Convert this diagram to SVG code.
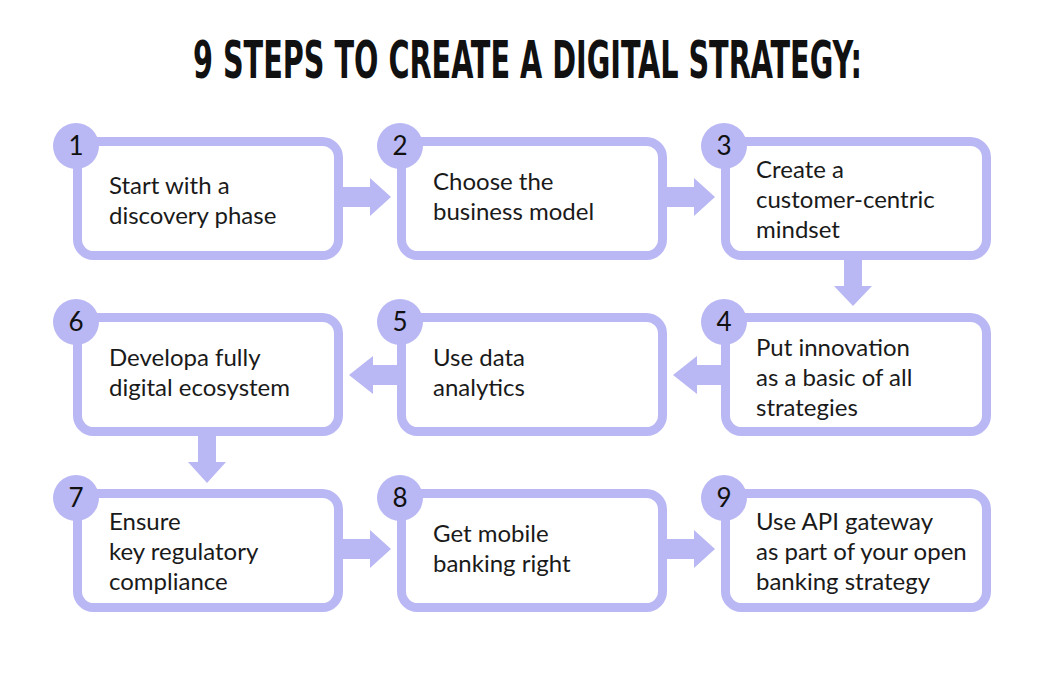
<svg xmlns="http://www.w3.org/2000/svg" width="1064" height="679" viewBox="0 0 1064 679">
<style>
.box{fill:#fff;stroke:#B9B8F4;stroke-width:9}
.num{fill:#B9B8F4}
.nt{font-family:Lato,"Liberation Sans",sans-serif;font-size:26px;fill:#111;text-anchor:middle}
.t{font-family:Lato,"Liberation Sans",sans-serif;font-size:24px;fill:#1a1a1a}
.arr{fill:#B9B8F4}
.title{font-family:"DejaVu Sans Condensed","Liberation Sans Narrow","Liberation Sans",sans-serif;font-weight:bold;font-size:52px;fill:#111}
</style>
<rect width="1064" height="679" fill="#fff"/>
<text class="title" transform="translate(193,78) scale(0.6,1)" x="0" y="0" textLength="1115" lengthAdjust="spacingAndGlyphs">9 STEPS TO CREATE A DIGITAL STRATEGY:</text>
<g id="connectors">
<path class="arr" d="M340 187H370V178L391 197L370 216V207H340Z"/>
<path class="arr" d="M664 187H694V178L715 197L694 216V207H664Z"/>
<path class="arr" d="M844 257V286H834L853 306L872 286H862V257Z"/>
<path class="arr" d="M726 365H697V356L673 375L697 394V385H726Z"/>
<path class="arr" d="M402 365H373V356L349 375L373 394V385H402Z"/>
<path class="arr" d="M198 432V462H188L207 483L226 462H216V432Z"/>
<path class="arr" d="M340 539H370V530L391 549L370 568V559H340Z"/>
<path class="arr" d="M664 539H694V530L715 549L694 568V559H664Z"/>
</g>
<g id="node1"><rect class="box" x="77.5" y="141.5" width="261" height="114" rx="16"/><circle class="num" cx="76" cy="146" r="23"/><text class="nt" x="76" y="155">1</text><text class="t" x="109" y="194">Start with a</text><text class="t" x="109" y="224">discovery phase</text></g>
<g id="node2"><rect class="box" x="401.5" y="141.5" width="261" height="114" rx="16"/><circle class="num" cx="400" cy="146" r="23"/><text class="nt" x="400" y="155">2</text><text class="t" x="433" y="190">Choose the</text><text class="t" x="433" y="220">business model</text></g>
<g id="node3"><rect class="box" x="725.5" y="141.5" width="261" height="114" rx="16"/><circle class="num" cx="724" cy="146" r="23"/><text class="nt" x="724" y="155">3</text><text class="t" x="756" y="178">Create a</text><text class="t" x="756" y="208">customer-centric</text><text class="t" x="756" y="238">mindset</text></g>
<g id="node4"><rect class="box" x="725.5" y="317.5" width="261" height="114" rx="16"/><circle class="num" cx="724" cy="322" r="23"/><text class="nt" x="724" y="331">4</text><text class="t" x="756" y="356">Put innovation</text><text class="t" x="756" y="386">as a basic of all</text><text class="t" x="756" y="416">strategies</text></g>
<g id="node5"><rect class="box" x="401.5" y="317.5" width="261" height="114" rx="16"/><circle class="num" cx="400" cy="322" r="23"/><text class="nt" x="400" y="331">5</text><text class="t" x="433" y="366">Use data</text><text class="t" x="433" y="396">analytics</text></g>
<g id="node6"><rect class="box" x="77.5" y="317.5" width="261" height="114" rx="16"/><circle class="num" cx="76" cy="322" r="23"/><text class="nt" x="76" y="331">6</text><text class="t" x="109" y="366">Developa fully</text><text class="t" x="109" y="396">digital ecosystem</text></g>
<g id="node7"><rect class="box" x="77.5" y="493.5" width="261" height="114" rx="16"/><circle class="num" cx="76" cy="498" r="23"/><text class="nt" x="76" y="507">7</text><text class="t" x="109" y="530">Ensure</text><text class="t" x="109" y="560">key regulatory</text><text class="t" x="109" y="590">compliance</text></g>
<g id="node8"><rect class="box" x="401.5" y="493.5" width="261" height="114" rx="16"/><circle class="num" cx="400" cy="498" r="23"/><text class="nt" x="400" y="507">8</text><text class="t" x="433" y="542">Get mobile</text><text class="t" x="433" y="572">banking right</text></g>
<g id="node9"><rect class="box" x="725.5" y="493.5" width="261" height="114" rx="16"/><circle class="num" cx="724" cy="498" r="23"/><text class="nt" x="724" y="507">9</text><text class="t" x="756" y="530">Use API gateway</text><text class="t" x="756" y="560">as part of your open</text><text class="t" x="756" y="590">banking strategy</text></g>
</svg>
